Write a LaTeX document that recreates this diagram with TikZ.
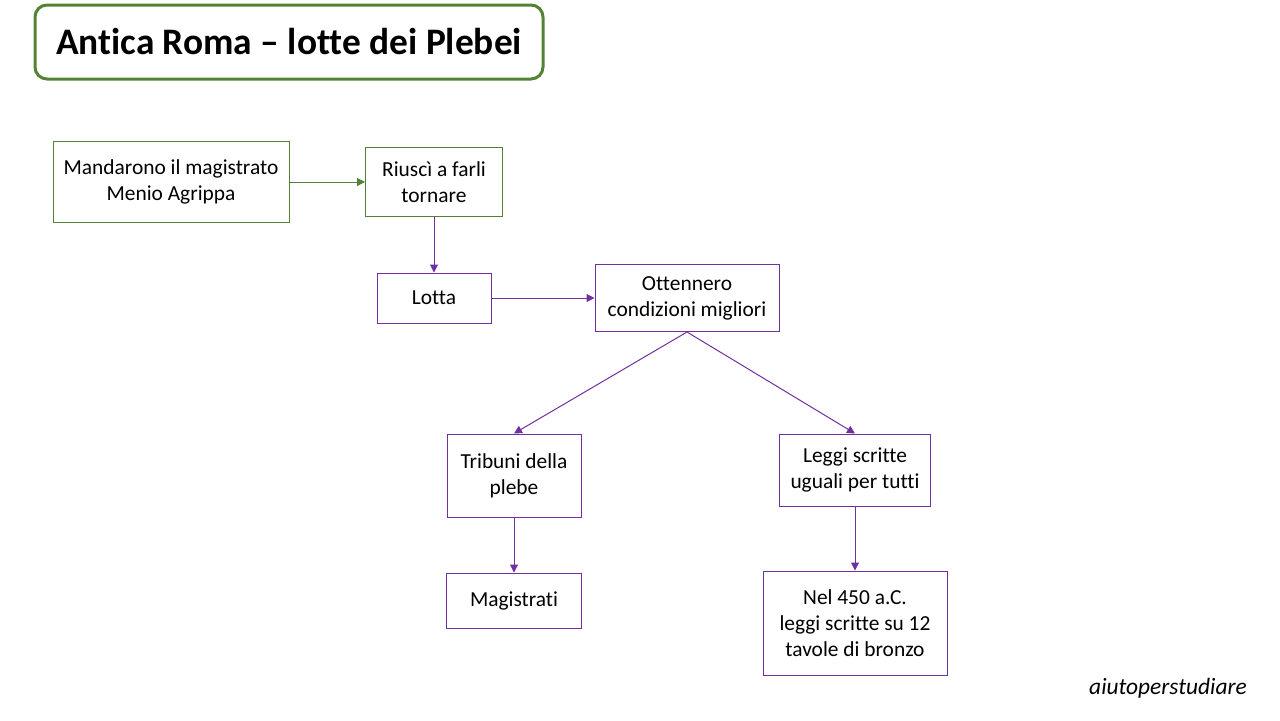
\documentclass[tikz,border=0pt]{standalone}
\usepackage{fontspec}
\setmainfont{Carlito}[Ligatures={NoCommon,NoRequired,NoContextual}]
\usepackage{xcolor}
\definecolor{ColG}{RGB}{84,130,53}
\definecolor{ColP}{RGB}{112,48,160}
\usepackage{tikz}
\usetikzlibrary{arrows.meta}
\tikzstyle{Title}=[draw=ColG,line width=1.5pt,rounded corners=6pt,
minimum width=254pt,minimum height=37pt,inner sep=0pt,
font=\fontsize{18.7}{22}\selectfont\bfseries]
\tikzstyle{Box}=[draw=ColP,line width=0.5pt,inner sep=0pt,align=center,
font=\fontsize{10.7}{13}\selectfont]
\tikzstyle{BoxG}=[Box,draw=ColG]
\tikzstyle{Edge}=[draw=ColP,line width=0.5pt,
-{Triangle[length=4pt,width=4pt]}]
\tikzstyle{EdgeG}=[Edge,draw=ColG,fill=ColG]

\begin{document}
\begin{tikzpicture}[x=0.5pt,y=-0.5pt]
        \useasboundingbox(0,0)rectangle(1280,720);
        \node[Title](title)at(289,42){Antica Roma -- lotte dei Plebei};
        \node[BoxG,minimum width=118pt,minimum height=40.5pt](mand)
            at(171,182){Mandarono il magistrato\\Menio Agrippa};
        \node[BoxG,minimum width=68.5pt,minimum height=34.5pt](riusci)
            at(434,182){Riuscì a farli\\tornare};
        \node[Box,minimum width=57pt,minimum height=25pt](lotta)
            at(434,298){Lotta};
        \node[Box,minimum width=92pt,minimum height=33.5pt](ott)
            at(687,298){Ottennero\\condizioni migliori};
        \node[Box,minimum width=67pt,minimum height=41.5pt](trib)
            at(514,475.5){Tribuni della\\plebe};
        \node[Box,minimum width=67.5pt,minimum height=27.5pt](mag)
            at(514,600.5){Magistrati};
        \node[Box,minimum width=75.5pt,minimum height=36pt](leggi)
            at(855,470){Leggi scritte\\uguali per tutti};
        \node[Box,minimum width=92pt,minimum height=52pt](nel)
            at(855,623){Nel 450 a.C.\\leggi scritte su 12\\tavole di bronzo};
        \node[font=\fontsize{11.7}{14}\selectfont\itshape](sig)
            at(1168,688){aiutoperstudiare};
        \draw[EdgeG](mand)--(riusci);
        \draw[Edge](riusci)--(lotta);
        \draw[Edge](lotta)--(ott);
        \draw[Edge](ott.south)--(trib.north);
        \draw[Edge](ott.south)--(leggi.north);
        \draw[Edge](trib)--(mag);
        \draw[Edge](leggi)--(nel);
    \end{tikzpicture}
\end{document}
